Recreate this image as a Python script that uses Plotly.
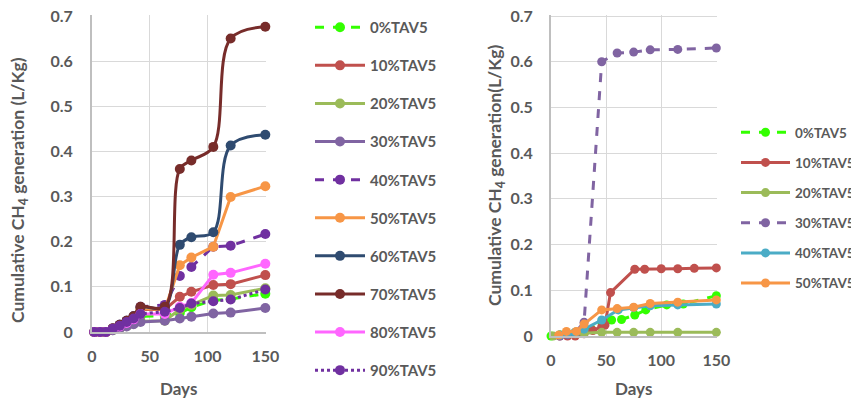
import plotly.graph_objects as go

# ---------------- Left chart data ----------------
days_left = [2, 7, 12, 18, 24, 30, 36, 42, 63, 76, 86, 105, 120, 150]
left_names = ["0%TAV5", "10%TAV5", "20%TAV5", "30%TAV5", "40%TAV5",
              "50%TAV5", "60%TAV5", "70%TAV5", "80%TAV5", "90%TAV5"]
left_0 = [0, 0, 0, 0.005, 0.010, 0.016, 0.022, 0.035, 0.036, 0.042, 0.055, 0.070, 0.073, 0.085]
left_10 = [0, 0, 0, 0.007, 0.014, 0.022, 0.032, 0.050, 0.050, 0.078, 0.089, 0.104, 0.106, 0.126]
left_20 = [0, 0, 0, 0.004, 0.008, 0.013, 0.018, 0.024, 0.025, 0.050, 0.060, 0.081, 0.082, 0.097]
left_30 = [0, 0, 0, 0.004, 0.008, 0.012, 0.017, 0.022, 0.025, 0.030, 0.034, 0.041, 0.043, 0.053]
left_40 = [0, 0, 0, 0.008, 0.016, 0.025, 0.035, 0.056, 0.060, 0.124, 0.144, 0.189, 0.191, 0.217]
left_50 = [0, 0, 0, 0.008, 0.015, 0.024, 0.034, 0.052, 0.050, 0.148, 0.165, 0.189, 0.299, 0.323]
left_60 = [0, 0, 0, 0.008, 0.016, 0.025, 0.035, 0.055, 0.055, 0.193, 0.210, 0.221, 0.413, 0.437]
left_70 = [0, 0, 0, 0.008, 0.016, 0.025, 0.035, 0.056, 0.056, 0.361, 0.380, 0.410, 0.650, 0.676]
left_80 = [0, 0, 0, 0.006, 0.012, 0.020, 0.028, 0.040, 0.040, 0.056, 0.064, 0.127, 0.131, 0.151]
left_90 = [0, 0, 0, 0.007, 0.014, 0.022, 0.030, 0.040, 0.045, 0.053, 0.063, 0.068, 0.072, 0.094]
left_values = [left_0, left_10, left_20, left_30, left_40,
               left_50, left_60, left_70, left_80, left_90]
left_colors = ["#33FF00", "#C0504D", "#9BBB59", "#8064A2", "#7030A0",
               "#F79646", "#2F4B70", "#772C2A", "#FF66FF", "#7030A0"]
left_dash = ["dash", "solid", "solid", "solid", "dash",
             "solid", "solid", "solid", "solid", "dot"]
left_shape = ["linear", "linear", "linear", "linear", "linear",
              "linear", "spline", "spline", "linear", "linear"]

# ---------------- Right chart data ----------------
right_names = ["0%TAV5", "10%TAV5", "20%TAV5", "30%TAV5", "40%TAV5", "50%TAV5"]
right_days_0 = [0, 8, 15, 22, 30, 46, 55, 64, 76, 86, 105, 120, 150]
right_0 = [0, 0.002, 0.005, 0.008, 0.012, 0.030, 0.035, 0.036, 0.046, 0.057, 0.068, 0.070, 0.088]
right_days_10 = [8, 15, 22, 30, 38, 46, 49, 54, 76, 85, 100, 115, 130, 150]
right_10 = [0, 0, 0, 0.005, 0.012, 0.020, 0.024, 0.095, 0.146, 0.146, 0.147, 0.147, 0.148, 0.149]
right_days_20 = [2, 8, 15, 22, 30, 46, 60, 75, 90, 115, 150]
right_20 = [0, 0.002, 0.004, 0.005, 0.006, 0.008, 0.008, 0.008, 0.008, 0.008, 0.008]
right_days_30 = [8, 15, 22, 30, 46, 60, 75, 90, 115, 150]
right_30 = [0, 0.003, 0.008, 0.030, 0.600, 0.619, 0.621, 0.626, 0.627, 0.630]
right_days_40 = [8, 15, 22, 30, 46, 61, 75, 90, 115, 150]
right_40 = [0.002, 0.005, 0.008, 0.015, 0.035, 0.057, 0.062, 0.066, 0.068, 0.070]
right_days_50 = [7, 14, 23, 30, 46, 60, 75, 90, 115, 150]
right_50 = [0.002, 0.010, 0.010, 0.026, 0.057, 0.060, 0.063, 0.071, 0.074, 0.079]
right_days = [right_days_0, right_days_10, right_days_20, right_days_30, right_days_40, right_days_50]
right_values = [right_0, right_10, right_20, right_30, right_40, right_50]
right_colors = ["#33FF00", "#C0504D", "#9BBB59", "#8064A2", "#4BACC6", "#F79646"]
right_dash = ["dash", "solid", "solid", "dash", "solid", "solid"]

x_ticks = [0, 50, 100, 150]
y_ticks = [0, 0.1, 0.2, 0.3, 0.4, 0.5, 0.6, 0.7]
y_tick_text = ["0", "0.1", "0.2", "0.3", "0.4", "0.5", "0.6", "0.7"]

FONT = "Lato"
GREY = "#595959"

fig = go.Figure()

for i, name in enumerate(left_names):
    fig.add_trace(go.Scatter(
        x=days_left, y=left_values[i], name=name, mode="lines+markers",
        line=dict(color=left_colors[i], width=3, dash=left_dash[i], shape=left_shape[i]),
        marker=dict(color=left_colors[i], size=10),
        xaxis="x", yaxis="y", legend="legend", legendgroup="L" + name,
        cliponaxis=False,
    ))

for i, name in enumerate(right_names):
    fig.add_trace(go.Scatter(
        x=right_days[i], y=right_values[i], name=name, mode="lines+markers",
        line=dict(color=right_colors[i], width=3, dash=right_dash[i]),
        marker=dict(color=right_colors[i], size=9),
        xaxis="x2", yaxis="y2", legend="legend2", legendgroup="R" + name,
        cliponaxis=False,
    ))

W, H = 859, 401
OFF = 8  # page body margin in the browser


def fx(sx):
    return (sx - OFF) / W


def fy(sy):
    return 1 - (sy - OFF) / H


def xdom(a, b):
    return [fx(a), fx(b)]


def ydom(top, bottom):
    return [fy(bottom), fy(top)]


def axis_style(standoff):
    return dict(
        showgrid=True, gridcolor="#D9D9D9", gridwidth=1,
        showline=True, linecolor="#BFBFBF", linewidth=2,
        zeroline=False, ticks="", ticklabelstandoff=standoff,
        ticklabeloverflow="allow",
        tickfont=dict(family=FONT, size=16, color=GREY, weight="bold"),
    )


fig.update_layout(
    width=W, height=H,
    margin=dict(l=0, r=0, t=0, b=0, autoexpand=False),
    paper_bgcolor="white", plot_bgcolor="white",
    showlegend=True,
    xaxis=dict(domain=xdom(92, 266), range=[0, 150.6], tickvals=x_ticks, anchor="y", **axis_style(9)),
    yaxis=dict(domain=ydom(15, 332), range=[0, 0.7022], tickvals=y_ticks, ticktext=y_tick_text,
               anchor="x", **axis_style(14)),
    xaxis2=dict(domain=xdom(551, 717), range=[0, 150.6], tickvals=x_ticks, anchor="y2", **axis_style(9)),
    yaxis2=dict(domain=ydom(15, 336), range=[0, 0.7022], tickvals=y_ticks, ticktext=y_tick_text,
                anchor="x2", **axis_style(13)),
    legend=dict(
        x=fx(310), y=fy(11), xanchor="left", yanchor="top", maxheight=1.0,
        font=dict(family=FONT, size=15, color=GREY, weight="bold"),
        tracegroupgap=15.6, bgcolor="rgba(0,0,0,0)", itemwidth=50,
    ),
    legend2=dict(
        x=fx(736), y=fy(117), xanchor="left", yanchor="top", maxheight=1.0,
        font=dict(family=FONT, size=13.5, color=GREY, weight="bold"),
        tracegroupgap=9.6, bgcolor="rgba(0,0,0,0)", itemwidth=49,
    ),
    annotations=[
        dict(text="Cumulative CH<sub>4</sub> generation (L/Kg)", x=fx(19), y=fy(190),
             xref="paper", yref="paper", textangle=-90, showarrow=False,
             xanchor="center", yanchor="middle",
             font=dict(family=FONT, size=17.5, color=GREY, weight="bold")),
        dict(text="Cumulative CH<sub>4</sub> generation(L/Kg)", x=fx(496), y=fy(176),
             xref="paper", yref="paper", textangle=-90, showarrow=False,
             xanchor="center", yanchor="middle",
             font=dict(family=FONT, size=17.5, color=GREY, weight="bold")),
        dict(text="Days", x=fx(178), y=fy(388), xref="paper", yref="paper",
             xanchor="center", yanchor="middle",
             showarrow=False, font=dict(family=FONT, size=17, color=GREY, weight="bold")),
        dict(text="Days", x=fx(633), y=fy(388), xref="paper", yref="paper",
             xanchor="center", yanchor="middle",
             showarrow=False, font=dict(family=FONT, size=17, color=GREY, weight="bold")),
    ],
)

fig.write_html("out.html")
